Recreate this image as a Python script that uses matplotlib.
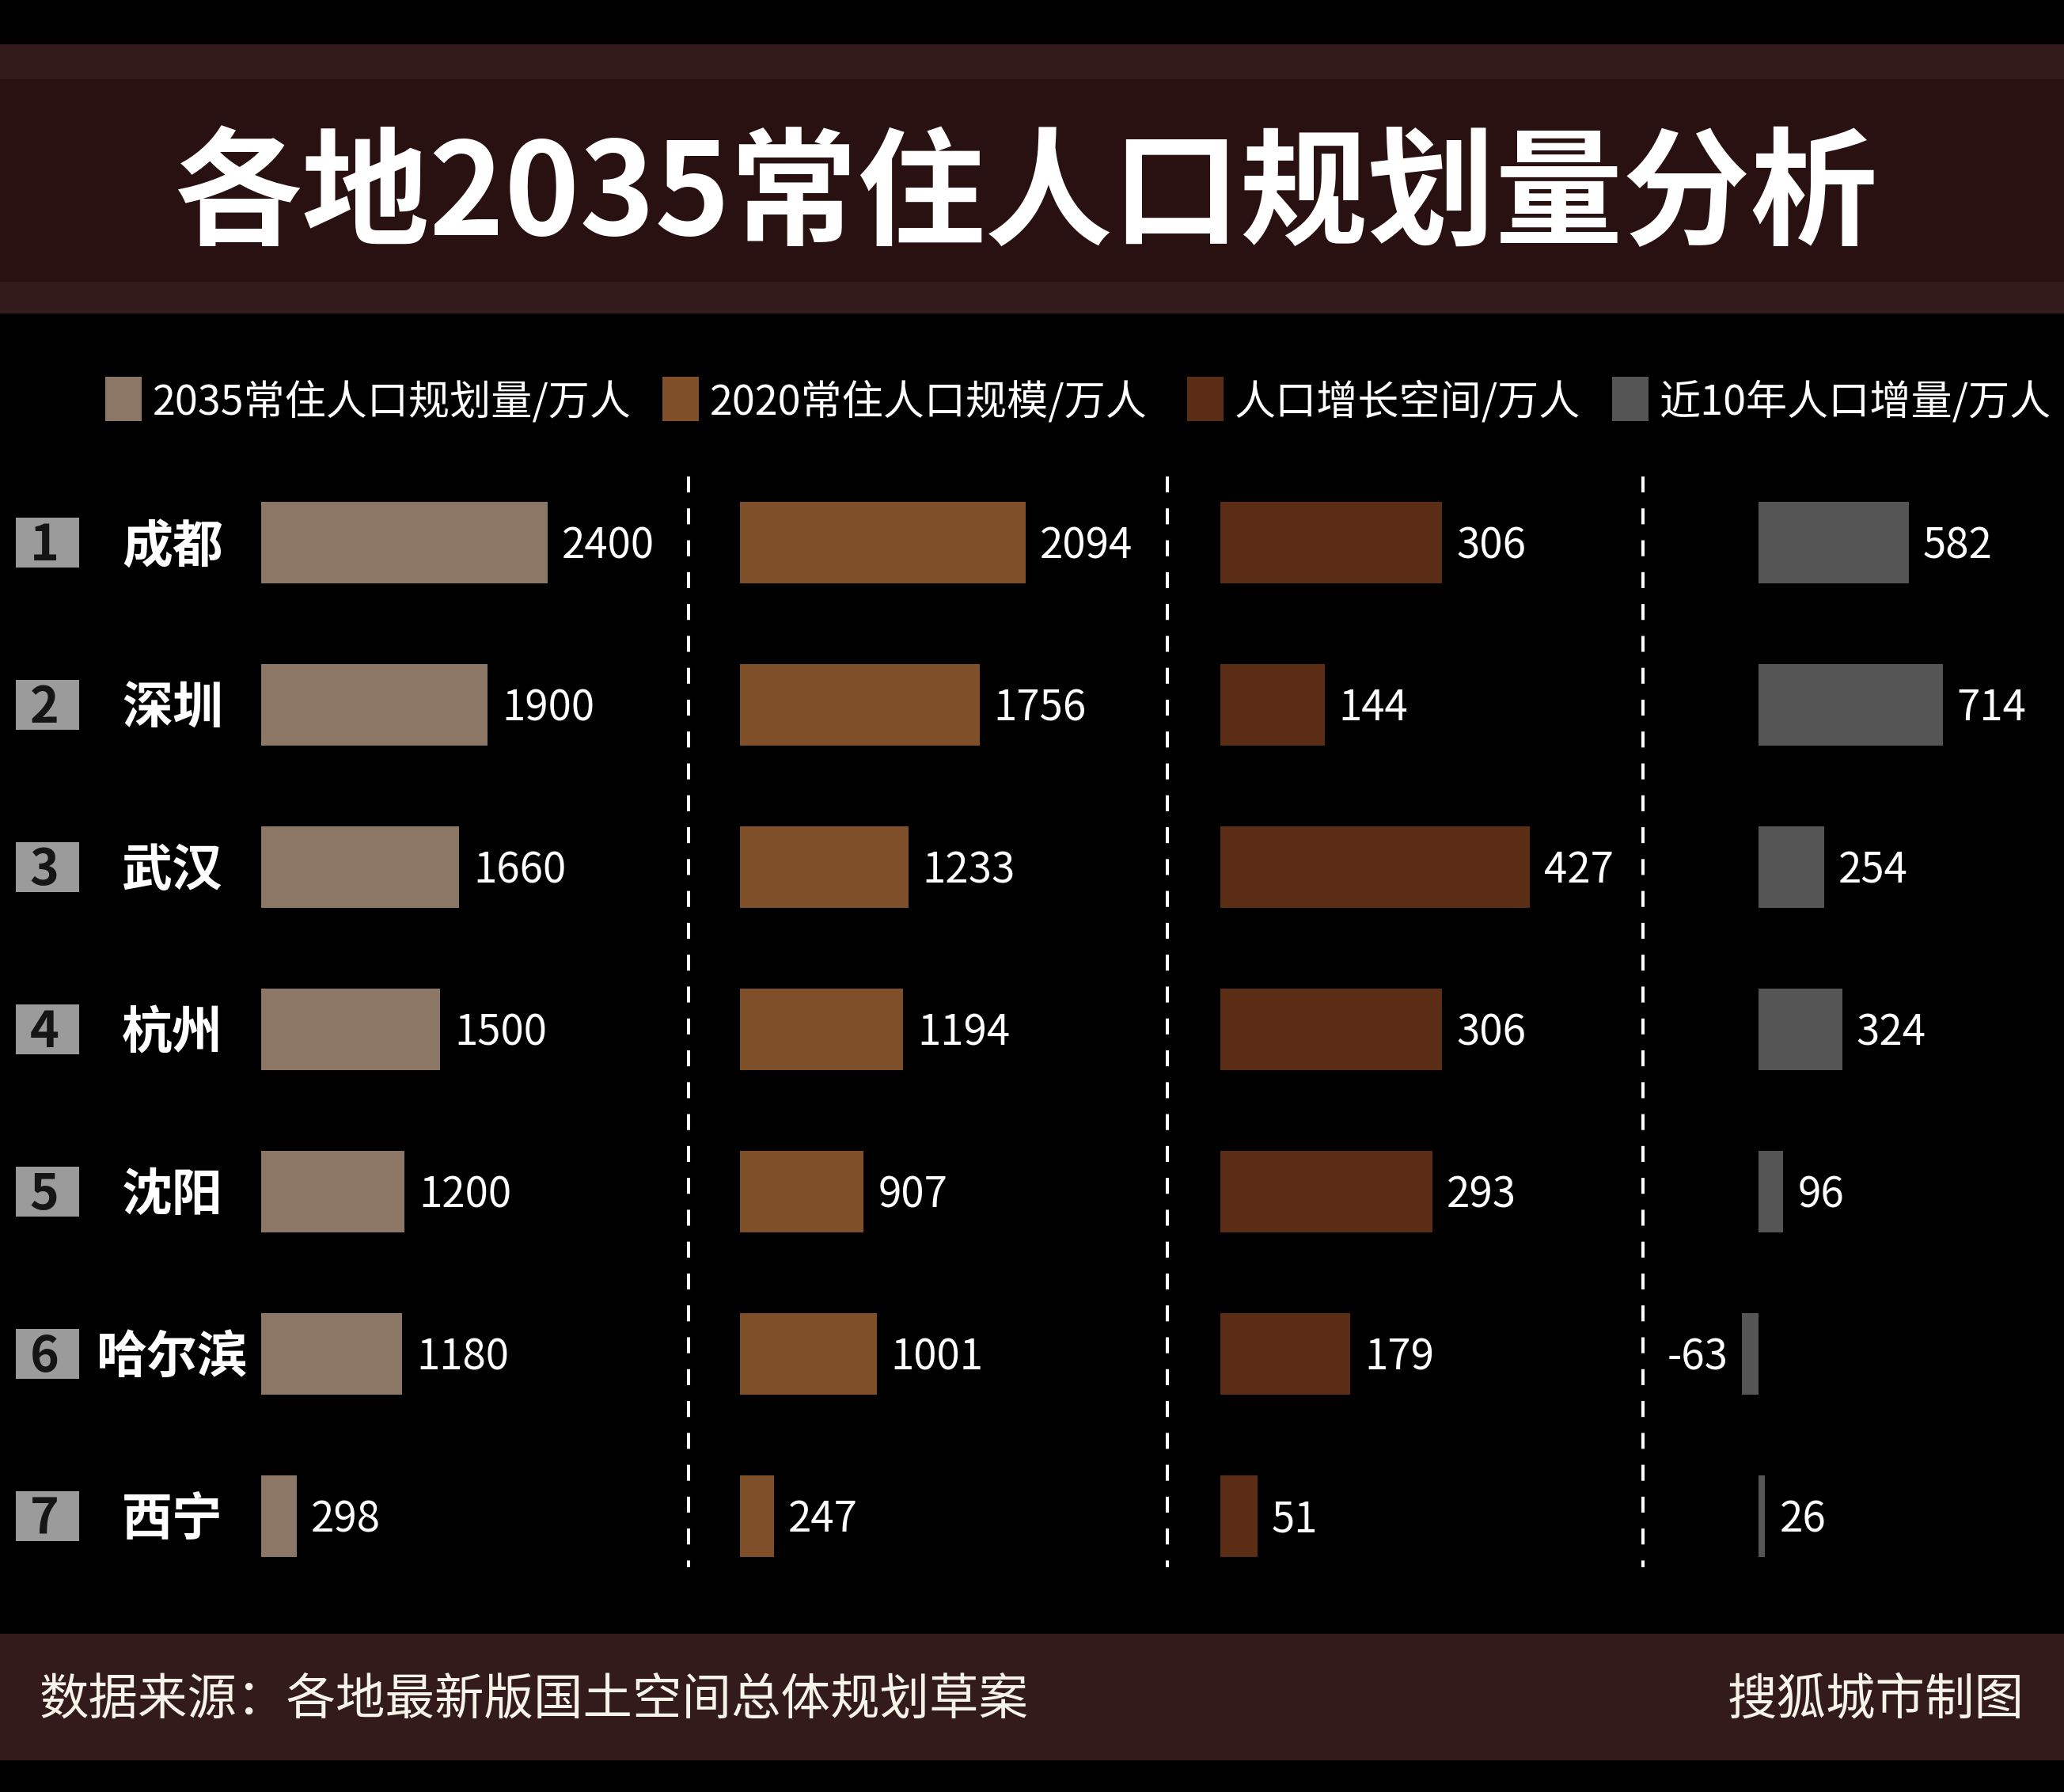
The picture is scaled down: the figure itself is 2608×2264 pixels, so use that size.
import matplotlib
matplotlib.use('Agg')
import matplotlib.pyplot as plt
from matplotlib.patches import Rectangle
from matplotlib import transforms

plt.rcParams['font.family'] = ['Noto Sans CJK SC', 'DejaVu Sans']

# ---------------- data ----------------
cities = ['成都', '深圳', '武汉', '杭州', '沈阳', '哈尔滨', '西宁']
ranks = ['1', '2', '3', '4', '5', '6', '7']
plan_2035 = [2400, 1900, 1660, 1500, 1200, 1180, 298]
pop_2020 = [2094, 1756, 1233, 1194, 907, 1001, 247]
growth_space = [306, 144, 427, 306, 293, 179, 51]
growth_10y = [582, 714, 254, 324, 96, -63, 26]
series_names = ['2035常住人口规划量/万人', '2020常住人口规模/万人',
                '人口增长空间/万人', '近10年人口增量/万人']
title = '各地2035常住人口规划量分析'
source = '数据来源：各地最新版国土空间总体规划草案'
credit = '搜狐城市制图'

# ---------------- style / layout ----------------
series_colors = ['#8c7767', '#7f4f2a', '#5a2d14', '#555555']
W, H = 2608, 2264
DPI = 100
fig = plt.figure(figsize=(W / DPI, H / DPI), dpi=DPI, facecolor='black')


def px_axes(x0, y0, x1, y1):
    return fig.add_axes([x0 / W, 1 - y1 / H, (x1 - x0) / W, (y1 - y0) / H])


bg = px_axes(0, 0, W, H)
bg.set_xlim(0, W)
bg.set_ylim(H, 0)
bg.axis('off')
bg.set_facecolor('black')

# title band
bg.add_patch(Rectangle((0, 56), W, 340, color='#331b1b', lw=0))
bg.add_patch(Rectangle((0, 100), W, 256, color='#291111', lw=0))
bg.text(1296, 250, title, fontsize=116, weight='bold', color='white',
        ha='center', va='center')

# footer band
bg.add_patch(Rectangle((0, 2064), W, 160, color='#331b1c', lw=0))
bg.text(50, 2148, source, fontsize=45, color='#f6f3e8', ha='left', va='center')
bg.text(2558, 2148, credit, fontsize=45, color='#f6f3e8', ha='right', va='center')

# legend
leg_x = [133, 837, 1500, 2037]
for lx, name, col in zip(leg_x, series_names, series_colors):
    bg.add_patch(Rectangle((lx, 476), 46, 56, color=col, lw=0))
    bg.text(lx + 60, 509, name, fontsize=37.5, color='white', ha='left', va='center')

# dashed separators
for dx in [870, 1475, 2076]:
    bg.plot([dx, dx], [602, 1980], color='white', lw=2.9, dashes=(5, 5))

# panels: (values, axes left px, axes right px, xmin, xmax)
ROW_TOP, ROW_BOTTOM = 583, 2018
panels = [
    (plan_2035, 330, 860, 0, 3515),
    (pop_2020, 935, 1465, 0, 3074),
    (growth_space, 1542, 2072, 0, 579),
    (growth_10y, 2090, 2600, -405, 1160),
]
n = len(cities)
axes = []
for (vals, x0, x1, xmin, xmax), col in zip(panels, series_colors):
    ax = px_axes(x0, ROW_TOP, x1, ROW_BOTTOM)
    ax.set_facecolor('none')
    ax.barh(range(n), vals, height=0.5, color=col, lw=0)
    ax.set_xlim(xmin, xmax)
    ax.set_ylim(n - 0.5, -0.5)
    ax.axis('off')
    for i, v in enumerate(vals):
        ax.annotate(str(v), xy=(v, i), xytext=(13 if v >= 0 else -13, -3.2),
                    textcoords='offset points', ha='left' if v >= 0 else 'right',
                    va='center', fontsize=38, color='white')
    axes.append(ax)

# rank boxes and city names
trans = transforms.blended_transform_factory(bg.transData, axes[0].transData)
for i, (r, c) in enumerate(zip(ranks, cities)):
    bg.add_patch(Rectangle((20, i - 0.156), 80, 0.312, transform=trans,
                           color='#9b9b9b', lw=0))
    bg.text(56, i + 0.02, r, transform=trans, fontsize=45, weight='bold',
            color='#151515', ha='center', va='center')
    bg.text(218, i + 0.025, c, transform=trans, fontsize=46, weight='bold',
            color='white', ha='center', va='center')

fig.savefig('out.png', dpi=DPI, facecolor='black')
